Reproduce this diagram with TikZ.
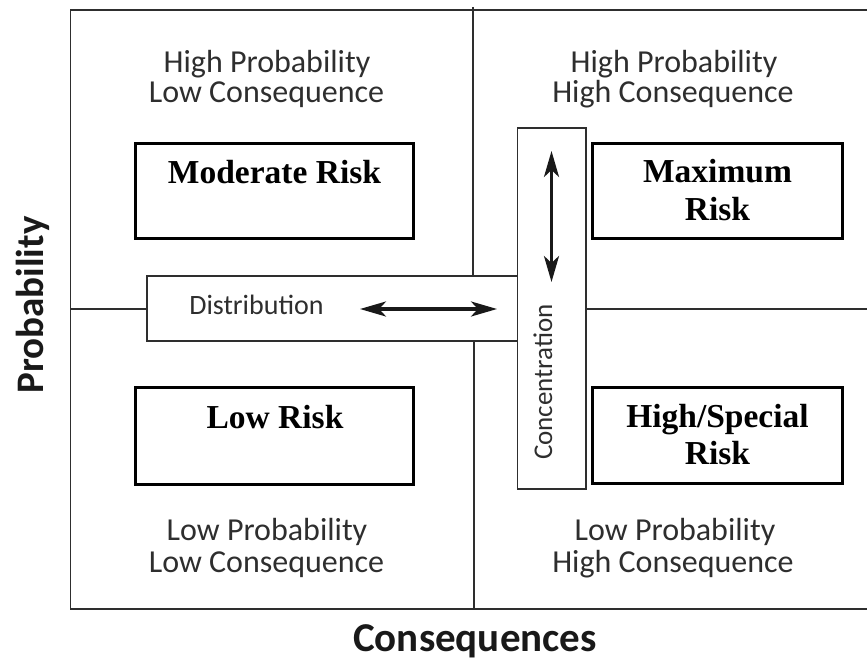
\documentclass[tikz,border=0pt]{standalone}
\usepackage{fontspec}
\setmainfont{Liberation Serif}
\newfontfamily\labfont{Carlito}
\usetikzlibrary{arrows.meta}
\definecolor{ink}{HTML}{2E2E2E}
\begin{document}
\begin{tikzpicture}[x=1pt,y=-1pt,
  frame/.style={draw=ink,line width=1.4pt},
  riskbox/.style={draw=black,line width=2.8pt,fill=white,inner sep=0pt},
  quad/.style={anchor=base,inner sep=0pt,text=ink,font=\labfont\fontsize{32}{36}\selectfont},
  small/.style={anchor=base,inner sep=0pt,text=ink,font=\labfont\fontsize{28}{32}\selectfont},
  risk/.style={anchor=base,inner sep=0pt,font=\bfseries\fontsize{33.5}{38}\selectfont},
  axis/.style={anchor=base,inner sep=0pt,text=black!90,font=\labfont\bfseries\fontsize{41}{46}\selectfont},
  dbl/.style={{Stealth[length=26pt,width=15pt,inset=7pt]}-{Stealth[length=26pt,width=15pt,inset=7pt]},line width=3.2pt,draw=black!90}]

\useasboundingbox (0,0) rectangle (867,661);

% frame and dividers
\coordinate (ftr) at (867,10);
\coordinate (ftl) at (70.5,10);
\coordinate (fbl) at (70.5,609);
\coordinate (fbr) at (867,609);
\draw[frame] (ftr) -- (ftl) -- (fbl) -- (fbr);
\coordinate (vt1) at (473,7);
\coordinate (vt2) at (473,276);
\coordinate (vb1) at (474,341);
\coordinate (vb2) at (474,609);
\draw[frame] (vt1) -- (vt2);
\draw[frame] (vb1) -- (vb2);
\coordinate (hl1) at (70.5,309);
\coordinate (hl2) at (147,309);
\coordinate (hr1) at (586,309);
\coordinate (hr2) at (867,309);
\draw[frame] (hl1) -- (hl2);
\draw[frame] (hr1) -- (hr2);

% distribution band
\node[frame,fill=white,minimum width=371pt,minimum height=65pt,inner sep=0pt] (dbox) at (332.5,308.5) {};
\node[small] (dtext) at (256.5,314) {Distribution};
\coordinate (da1) at (360,309);
\coordinate (da2) at (497,309);
\draw[dbl] (da1) -- (da2);

% concentration band
\node[frame,fill=white,minimum width=68.5pt,minimum height=361pt,inner sep=0pt] (cbox) at (551.75,308.5) {};
\node[small,font=\labfont\fontsize{27}{30}\selectfont,rotate=90] (ctext) at (552,382) {Concentration};
\coordinate (ca1) at (551.5,151);
\coordinate (ca2) at (551.5,282);
\draw[dbl] (ca1) -- (ca2);

% risk boxes
\node[riskbox,minimum width=278pt,minimum height=95pt] (mod) at (274.5,191) {};
\node[riskbox,minimum width=250pt,minimum height=95pt] (max) at (717.5,191) {};
\node[riskbox,minimum width=278pt,minimum height=97pt] (low) at (274.5,436) {};
\node[riskbox,minimum width=250pt,minimum height=96pt] (hsp) at (717.5,435.5) {};
\node[risk] (modt) at (274.5,183) {Moderate Risk};
\node[risk] (maxt1) at (717.5,182.7) {Maximum};
\node[risk] (maxt2) at (717.5,220) {Risk};
\node[risk] (lowt) at (275,428) {Low Risk};
\node[risk] (hspt1) at (717.5,427.7) {High/Special};
\node[risk] (hspt2) at (717.5,464.3) {Risk};

% quadrant labels
\node[quad] (q1a) at (267,72.7) {High Probability};
\node[quad] (q1b) at (266.5,102.7) {Low Consequence};
\node[quad] (q2a) at (674,72.7) {High Probability};
\node[quad] (q2b) at (673,102.7) {High Consequence};
\node[quad] (q3a) at (267,540.7) {Low Probability};
\node[quad] (q3b) at (266.5,572.7) {Low Consequence};
\node[quad] (q4a) at (675,540.7) {Low Probability};
\node[quad] (q4b) at (673,572.7) {High Consequence};

% axis labels
\node[axis,font=\labfont\bfseries\fontsize{39}{44}\selectfont,rotate=90] (ylab) at (43,305) {Probability};
\node[axis] (xlab) at (475,651) {Consequences};
\end{tikzpicture}
\end{document}
